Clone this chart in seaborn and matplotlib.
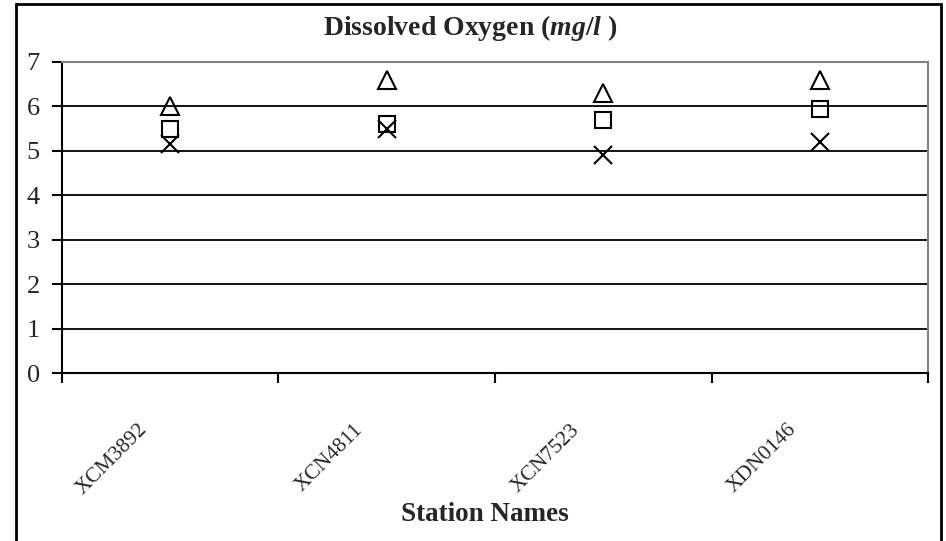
import numpy as np
import pandas as pd
import seaborn as sns
import matplotlib.pyplot as plt
import matplotlib.patches as mpatches
import matplotlib.transforms as mtransforms

# Data ########################################################################
stations = ["XCM3892", "XCN4811", "XCN7523", "XDN0146"]
do_max = [6.0, 6.6, 6.3, 6.6]
do_mean = [5.5, 5.6, 5.7, 5.95]
do_min = [5.15, 5.5, 4.9, 5.2]

df = pd.DataFrame({"station": stations, "max": do_max, "mean": do_mean, "min": do_min})

# Style #######################################################################
sns.set_style("white")
plt.rcParams["font.family"] = ["Liberation Serif", "DejaVu Serif"]
plt.rcParams["mathtext.fontset"] = "custom"
plt.rcParams["mathtext.it"] = "Liberation Serif:bold:italic"
plt.rcParams["mathtext.rm"] = "Liberation Serif:bold"

fig = plt.figure(figsize=(9.46, 5.41), dpi=100)
ax = fig.add_axes([0.0655, 0.3105, 0.9155, 0.575])

# Plot ########################################################################
marker_styles = [("max", "^", 13), ("mean", "s", 11.5), ("min", "x", 13)]
for col, mk, ms in marker_styles:
    sns.pointplot(data=df, x="station", y=col, ax=ax, linestyle="none",
                  marker=mk, markersize=ms, color="black",
                  markerfacecolor="none", markeredgecolor="black",
                  markeredgewidth=1.5, errorbar=None)

ax.set_xlim(-0.5, len(stations) - 0.5)
ax.set_ylim(0, 7)
ax.set_yticks(range(0, 8))
ax.tick_params(axis="y", labelsize=19, length=7, width=1.5, color="black",
               pad=9, direction="out", left=True)

# boundary ticks (major) and category labels (minor)
ax.set_xticks(np.arange(-0.5, len(stations)), minor=False)
ax.set_xticklabels([])
ax.set_xticks(np.arange(len(stations)), minor=True)
ax.set_xticklabels(stations, minor=True, rotation=45, ha="right", va="top",
                   rotation_mode="anchor", fontsize=15.5)
ax.tick_params(axis="x", which="major", length=7, width=1.5, color="black",
               direction="out", bottom=True)
ax.tick_params(axis="x", which="minor", length=0, pad=34)
offset = mtransforms.ScaledTranslation(-0.33, 0, fig.dpi_scale_trans)
for lab in ax.get_xticklabels(minor=True):
    lab.set_transform(lab.get_transform() + offset)

for y in range(1, 7):
    ax.axhline(y, color="black", lw=1.3, zorder=0)

for s in ["left", "bottom"]:
    ax.spines[s].set_color("black")
    ax.spines[s].set_linewidth(1.5)
for s in ["top", "right"]:
    ax.spines[s].set_color("#808080")
    ax.spines[s].set_linewidth(1.5)

ax.set_ylabel("")
ax.set_xlabel("Station Names", fontsize=19.5, fontweight="bold")
ax.xaxis.set_label_coords(0.488, -0.415)
fig.text(0.497, 0.948, r"Dissolved Oxygen ($mg/l$ )", ha="center", va="center",
         fontsize=20, fontweight="bold")

# outer chart frame
frame = mpatches.Rectangle((16 / 946, -0.05), (941 - 16) / 946, 1.05 - 4 / 541,
                           transform=fig.transFigure, fill=False,
                           edgecolor="black", lw=2, clip_on=False)
fig.patches.append(frame)

fig.savefig("out.png", dpi=100)
